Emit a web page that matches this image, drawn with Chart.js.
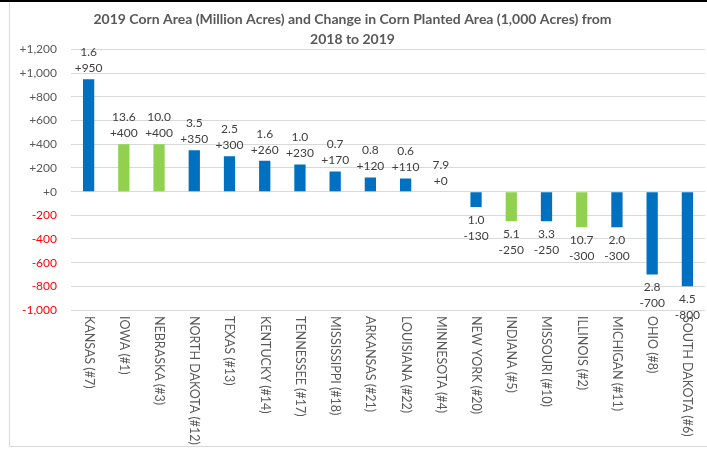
<!DOCTYPE html>
<html>
<head>
<meta charset="utf-8">
<script src="https://cdn.jsdelivr.net/npm/chart.js@4"></script>
<style>
	body { margin: 0; background: #fff; }
	#wrap { position: relative; width: 707px; height: 450px; }
	#topline { position: absolute; left: 0; top: 0; width: 707px; height: 2px; background: #000; }
	#frame { position: absolute; left: 9px; top: 2px; width: 700px; height: 444px; border-left: 1px solid #d9d9d9; border-bottom: 1px solid #d9d9d9; }
</style>
</head>
<body>
<div id="wrap">
	<canvas id="mycanvas" width="707" height="450"></canvas>
	<div id="topline"></div>
	<div id="frame"></div>
</div>
<script>
var states = ['KANSAS (#7)', 'IOWA (#1)', 'NEBRASKA (#3)', 'NORTH DAKOTA (#12)', 'TEXAS (#13)', 'KENTUCKY (#14)',
	'TENNESSEE (#17)', 'MISSISSIPPI (#18)', 'ARKANSAS (#21)', 'LOUISIANA (#22)', 'MINNESOTA (#4)', 'NEW YORK (#20)',
	'INDIANA (#5)', 'MISSOURI (#10)', 'ILLINOIS (#2)', 'MICHIGAN (#11)', 'OHIO (#8)', 'SOUTH DAKOTA (#6)'];
var change = [950, 400, 400, 350, 300, 260, 230, 170, 120, 110, 0, -130, -250, -250, -300, -300, -700, -800];
var area = ['1.6', '13.6', '10.0', '3.5', '2.5', '1.6', '1.0', '0.7', '0.8', '0.6', '7.9', '1.0', '5.1', '3.3', '10.7', '2.0', '2.8', '4.5'];
var topFive = [false, true, true, false, false, false, false, false, false, false, false, false, true, false, true, false, false, false];

var blue = '#0070C0';
var green = '#92D050';
var font = 'Lato, "Liberation Sans", sans-serif';

function fmt(v) {
	var s = Math.abs(v).toLocaleString('en-US');
	return (v < 0 ? '-' : '+') + s;
}

var colors = [];
for (var i in change) {
	colors.push(topFive[i] ? green : blue);
}

// value labels (area on top, change below) and vertical state names
var labelsPlugin = {
	id: 'labels',
	afterDatasetsDraw: function(chart) {
		var ctx = chart.ctx;
		var meta = chart.getDatasetMeta(0);
		ctx.save();
		ctx.font = '12px ' + font;
		ctx.fillStyle = '#404040';
		ctx.textAlign = 'center';
		ctx.textBaseline = 'middle';
		meta.data.forEach(function(bar, i) {
			var v = change[i];
			if (v >= 0) {
				ctx.fillText(fmt(v), bar.x, bar.y - 11);
				ctx.fillText(area[i], bar.x, bar.y - 27);
			} else {
				ctx.fillText(area[i], bar.x, bar.y + 13);
				ctx.fillText(fmt(v), bar.x, bar.y + 29);
			}
		});
		var xs = chart.scales.x;
		var y0 = chart.chartArea.bottom + 6;
		ctx.fillStyle = '#595959';
		ctx.textAlign = 'left';
		ctx.font = '12.5px ' + font;
		states.forEach(function(s, i) {
			var x = xs.getPixelForValue(i);
			ctx.save();
			ctx.translate(x, y0);
			ctx.rotate(Math.PI / 2);
			ctx.fillText(s, 0, 0);
			ctx.restore();
		});
		ctx.restore();
	}
};

var ctx = document.getElementById('mycanvas');
var barGraph = new Chart(ctx, {
	type: 'bar',
	data: {
		labels: states,
		datasets: [{
			label: 'Change',
			data: change,
			backgroundColor: colors,
			borderWidth: 0,
			barPercentage: 0.32,
			categoryPercentage: 1
		}]
	},
	options: {
		responsive: false,
		animation: false,
		layout: { padding: { left: 0, right: 2, top: 5, bottom: 140 } },
		plugins: {
			legend: { display: false },
			tooltip: { enabled: false },
			title: {
				display: true,
				text: ['2019 Corn Area (Million Acres) and Change in Corn Planted Area (1,000 Acres) from', '2018 to 2019'],
				color: '#595959',
				font: { family: font, size: 14, weight: 'bold', lineHeight: 1.45 },
				padding: { top: 4, bottom: 0 }
			}
		},
		scales: {
			x: {
				grid: { display: false, drawTicks: false },
				border: { display: false },
				ticks: { display: false }
			},
			y: {
				min: -1000,
				max: 1200,
				afterFit: function(scale) { scale.width = 71; },
				ticks: {
					stepSize: 200,
					padding: 14,
					color: function(c) { return c.tick.value < 0 ? '#FF0000' : '#595959'; },
					font: { family: font, size: 12 },
					callback: function(v) { return fmt(v); }
				},
				grid: { color: '#d9d9d9', drawTicks: false },
				border: { display: false }
			}
		}
	},
	plugins: [labelsPlugin]
});
</script>
</body>
</html>
